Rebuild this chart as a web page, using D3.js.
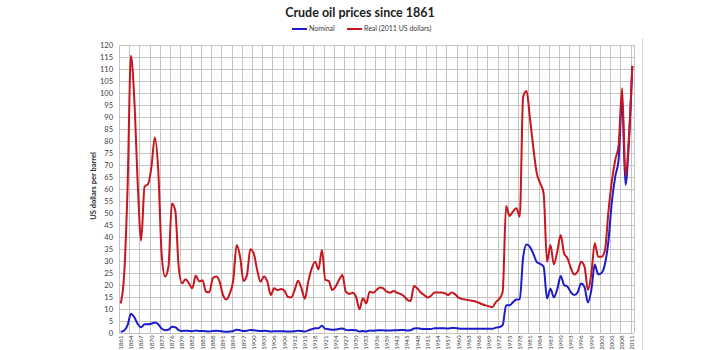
<!DOCTYPE html>
<html>
<head>
<meta charset="utf-8">
<script src="https://cdn.jsdelivr.net/npm/d3@7"></script>
<style>
  html, body { margin: 0; padding: 0; background: #ffffff; }
  svg { display: block; }
</style>
</head>
<body>
<svg id="chart" width="720" height="350"></svg>
<script>
const years = d3.range(1861, 2012);

const nominal = [
  0.49, 1.05, 3.15, 8.06, 6.59, 3.74, 2.41, 3.63, 3.64, 3.86,
  4.34, 3.64, 1.83, 1.17, 1.35, 2.56, 2.42, 1.19, 0.86, 0.95,
  0.86, 0.78, 1.00, 0.84, 0.88, 0.71, 0.67, 0.88, 0.94, 0.87,
  0.67, 0.56, 0.64, 0.84, 1.36, 1.18, 0.79, 0.91, 1.29, 1.19,
  0.96, 0.80, 0.94, 0.86, 0.62, 0.73, 0.72, 0.72, 0.70, 0.61,
  0.61, 0.74, 0.95, 0.81, 0.64, 1.10, 1.56, 1.98, 2.01, 3.07,
  1.73, 1.61, 1.34, 1.43, 1.68, 1.88, 1.30, 1.17, 1.27, 1.19,
  0.65, 0.87, 0.67, 1.00, 0.97, 1.09, 1.18, 1.13, 1.02, 1.02,
  1.14, 1.19, 1.20, 1.21, 1.05, 1.12, 1.90, 1.99, 1.78, 1.71,
  1.71, 1.71, 1.93, 1.93, 1.93, 1.93, 1.90, 2.08, 2.08, 1.90,
  1.80, 1.80, 1.80, 1.80, 1.80, 1.80, 1.80, 1.80, 1.80, 1.80,
  2.24, 2.48, 3.29, 11.58, 11.53, 12.80, 13.92, 14.02, 31.61, 36.83,
  35.93, 32.97, 29.55, 28.78, 27.56, 14.43, 18.44, 14.92, 18.23, 23.73,
  20.00, 19.32, 16.97, 15.82, 17.02, 20.67, 19.09, 12.72, 17.97, 28.50,
  24.44, 25.02, 28.83, 38.27, 54.52, 65.14, 72.39, 97.26, 61.67, 79.50,
  111.26
];

const real = [
  12.3, 24.0, 60.0, 115.5, 97.0, 62.0, 38.5, 61.0, 62.0, 69.0,
  81.5, 68.0, 33.0, 23.5, 27.6, 54.0, 51.0, 27.6, 20.7, 22.4,
  20.7, 18.6, 24.0, 21.5, 22.0, 17.2, 17.0, 22.8, 23.5, 21.4,
  15.8, 14.0, 16.5, 22.0, 36.7, 31.8, 21.7, 24.0, 34.9, 33.2,
  26.3, 21.4, 23.5, 21.4, 15.8, 18.6, 17.9, 18.3, 17.6, 15.1,
  14.8, 17.9, 21.8, 18.6, 14.3, 21.4, 26.9, 29.7, 26.5, 34.6,
  22.1, 21.7, 17.9, 19.3, 22.1, 24.2, 17.2, 16.3, 16.8, 15.1,
  9.9, 14.5, 12.4, 17.2, 16.8, 17.9, 19.0, 18.6, 17.2, 16.8,
  17.5, 16.8, 16.3, 15.4, 13.9, 13.3, 19.6, 18.5, 16.9, 15.8,
  14.8, 15.5, 16.9, 16.9, 16.9, 16.6, 15.8, 16.9, 16.2, 14.8,
  14.2, 13.9, 13.7, 13.4, 13.1, 12.6, 12.0, 11.5, 11.1, 10.8,
  12.9, 14.2, 17.2, 52.9, 48.8, 50.6, 52.0, 48.5, 98.5, 100.8,
  89.4, 77.0, 66.5, 62.4, 58.2, 29.7, 36.7, 28.6, 33.9, 40.8,
  33.2, 31.1, 27.0, 24.4, 25.6, 29.7, 27.6, 17.9, 24.9, 37.4,
  31.8, 31.8, 34.6, 50.6, 63.2, 72.1, 78.3, 102.0, 65.8, 81.0,
  111.3
];

const yTicks = [0,5,10,15,20,25,30,35,40,45,50,55,60,65,70,75,80,85,90,95,100,105,110,115,120];
const xLabelYears = years.filter((d, i) => i % 3 === 0);

const seriesNames = ["Nominal", "Real (2011 US dollars)"];
const seriesColors = ["#1c1ccc", "#c8161e"];

const title = "Crude oil prices since 1861";
const yTitle = "US dollars per barrel";

const svg = d3.select("#chart");
const L = 119, R = 634, T = 45, B = 333;

const x = d3.scaleBand().domain(years).range([L, R]).padding(0);
const y = d3.scaleLinear().domain([0, 120]).range([B, T]);
const cx = d => x(d) + x.bandwidth() / 2;

// grid
const grid = svg.append("g");
grid.selectAll("line.h").data(yTicks).enter().append("line")
  .attr("x1", L).attr("x2", R)
  .attr("y1", d => Math.round(y(d)) + 0.5).attr("y2", d => Math.round(y(d)) + 0.5)
  .attr("stroke", "#c4c4c4").attr("stroke-width", 1);
const vx = xLabelYears.map(d => x(d)).concat([R]);
grid.selectAll("line.v").data(vx).enter().append("line")
  .attr("x1", d => Math.round(d) + 0.5).attr("x2", d => Math.round(d) + 0.5)
  .attr("y1", T).attr("y2", B)
  .attr("stroke", "#c4c4c4").attr("stroke-width", 1);

// outer faint border at right
svg.append("line").attr("x1", 642.5).attr("x2", 642.5).attr("y1", 38).attr("y2", 350)
  .attr("stroke", "#d8d8d8").attr("stroke-width", 1);

// y axis labels
const yAxis = d3.axisLeft(y).tickValues(yTicks).tickSize(0).tickPadding(6);
const gy = svg.append("g").attr("transform", `translate(${L},0)`).call(yAxis);
gy.select(".domain").remove();
gy.selectAll("text").attr("font-family", "Lato, 'Open Sans', sans-serif")
  .attr("font-size", 7.5).attr("fill", "#404040");

// x labels
svg.append("g").selectAll("text").data(xLabelYears).enter().append("text")
  .attr("transform", d => `translate(${cx(d)},335.5) rotate(-90)`)
  .attr("text-anchor", "end").attr("dy", "0.35em")
  .attr("font-family", "Lato, 'Open Sans', sans-serif").attr("font-size", 6.2)
  .attr("fill", "#404040").text(d => d);

// y title
svg.append("text").attr("transform", "translate(93,186) rotate(-90)")
  .attr("text-anchor", "middle").attr("dy", "0.35em")
  .attr("font-family", "Lato, 'Open Sans', sans-serif").attr("font-size", 7.5)
  .attr("font-weight", "bold").attr("fill", "#303030").text(yTitle);

// lines
const line = d3.line().x((d, i) => cx(years[i])).y(d => y(d)).curve(d3.curveMonotoneX);
[nominal, real].forEach((s, k) => {
  svg.append("path").datum(s).attr("d", line).attr("fill", "none")
    .attr("stroke", seriesColors[k]).attr("stroke-width", 2).attr("stroke-linejoin", "round");
});

// title
svg.append("text").attr("x", 360).attr("y", 17).attr("text-anchor", "middle")
  .attr("font-family", "Lato, 'Open Sans', sans-serif").attr("font-size", 12.5)
  .attr("font-weight", "bold").attr("fill", "#222").text(title);

// legend
const legX = [292, 347];
seriesNames.forEach((n, k) => {
  const g = svg.append("g").attr("transform", `translate(${legX[k]},29)`);
  g.append("line").attr("x1", 0).attr("x2", 15).attr("y1", 0).attr("y2", 0)
    .attr("stroke", seriesColors[k]).attr("stroke-width", 2);
  g.append("text").attr("x", 17).attr("y", 0).attr("dy", "0.35em")
    .attr("font-family", "Lato, 'Open Sans', sans-serif").attr("font-size", 7)
    .attr("fill", "#404040").text(n);
});
</script>
</body>
</html>
